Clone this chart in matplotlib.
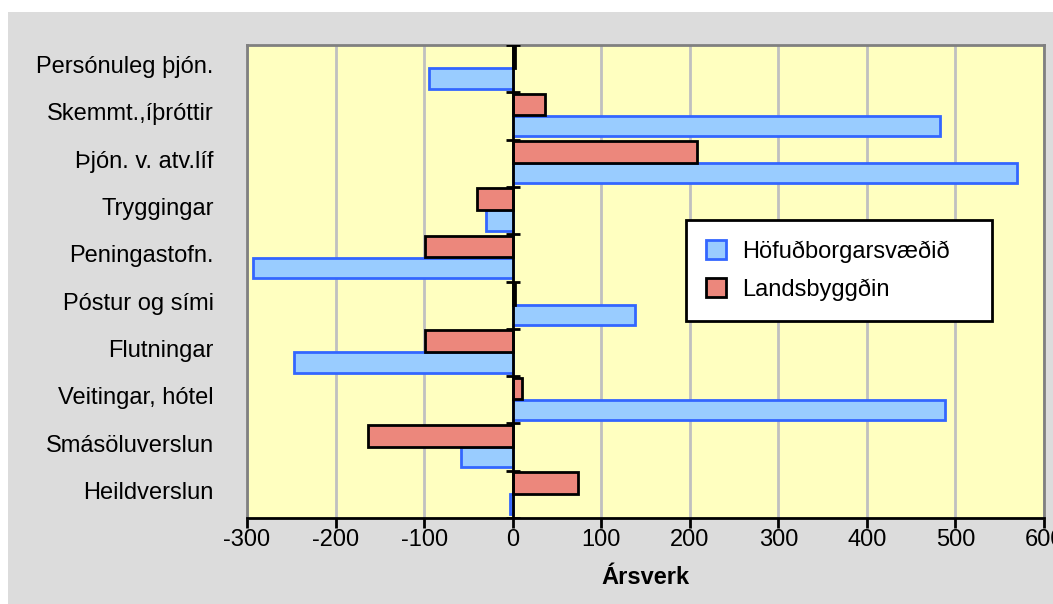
"""
Ársverk eftir atvinnugreinum - Höfuðborgarsvæðið / Landsbyggðin
"""

import matplotlib
matplotlib.use("Agg")
import matplotlib.pyplot as plt
import matplotlib.transforms as mtransforms
from matplotlib.patches import Rectangle
import numpy as np

plt.rcParams['font.family'] = ['Liberation Sans', 'DejaVu Sans']
FS = 17

# greinar, neðst upp
greinar = ['Heildverslun', 'Smásöluverslun', 'Veitingar, hótel', 'Flutningar',
           'Póstur og sími', 'Peningastofn.', 'Tryggingar', 'Þjón. v. atv.líf',
           'Skemmt.,íþróttir', 'Persónuleg þjón.']
hofudborg = [-3, -58, 488, -247, 138, -293, -30, 569, 482, -94]
landsbyggd = [74, -163, 11, -99, 3, -99, -40, 208, 36, 3]
xticks = [-300, -200, -100, 0, 100, 200, 300, 400, 500, 600]

fig = plt.figure(figsize=(10.53, 6.04), dpi=100)
fig.patch.set_facecolor('white')
# grár bakgrunnur
fig.patches.append(Rectangle((8/1053, 0), 1, 1 - 12/604, transform=fig.transFigure,
                             facecolor='#dcdcdc', edgecolor='none', zorder=-10))

ax = fig.add_axes([247/1053, 1 - 518/604, 797/1053, 473/604])
ax.set_facecolor('#ffffc0')

y = np.arange(len(greinar))
ax.barh(y - 0.21, hofudborg, height=0.43, color='#99ccff', edgecolor='#3366ff',
        linewidth=2, label='Höfuðborgarsvæðið', zorder=3)
ax.barh(y + 0.24, landsbyggd, height=0.46, color='#ec877c', edgecolor='black',
        linewidth=2, label='Landsbyggðin', zorder=3)

ax.set_xlim(-300, 600)
ax.set_ylim(-0.5, len(greinar) - 0.5)

# núll-lína með merkjum milli flokka
ax.axvline(0, color='black', lw=2, zorder=4)
ax.hlines(np.arange(-0.5, len(greinar)), -7, 8, color='black', lw=2, zorder=4)

ax.set_xticks(xticks)
ax.set_xticklabels([str(v) for v in xticks], fontsize=FS)
ax.set_yticks(y)
ax.set_yticklabels(greinar, fontsize=FS)
ax.tick_params(axis='y', length=0, pad=24)
ax.tick_params(axis='x', direction='out', length=7, width=2, pad=1, color='black')
# merkin aðeins ofar en miðja flokks
upp = mtransforms.ScaledTranslation(0, 4/100, fig.dpi_scale_trans)
for t in ax.get_yticklabels():
    t.set_transform(t.get_transform() + upp)
ax.grid(axis='x', color='#c0c0c0', lw=2, zorder=0)
ax.set_axisbelow(True)

for s in ['left', 'top', 'right']:
    ax.spines[s].set_color('#808080')
    ax.spines[s].set_linewidth(2)
ax.spines['bottom'].set_color('black')
ax.spines['bottom'].set_linewidth(2)
ax.spines['bottom'].set_zorder(5)

ax.set_xlabel('Ársverk', fontsize=FS, fontweight='bold', labelpad=11)

leg = ax.legend(loc='lower left', bbox_to_anchor=(0.551, 0.4165, 0.384, 0.2175),
                mode='expand', fontsize=FS, frameon=True, fancybox=False,
                borderpad=0.85, labelspacing=0.65, handlelength=0.85, handleheight=0.85,
                handletextpad=0.65, borderaxespad=0)
leg.get_frame().set_edgecolor('black')
leg.get_frame().set_linewidth(2)
leg.get_frame().set_facecolor('white')
leg.get_frame().set_alpha(1)

fig.savefig('out.png', dpi=100)
